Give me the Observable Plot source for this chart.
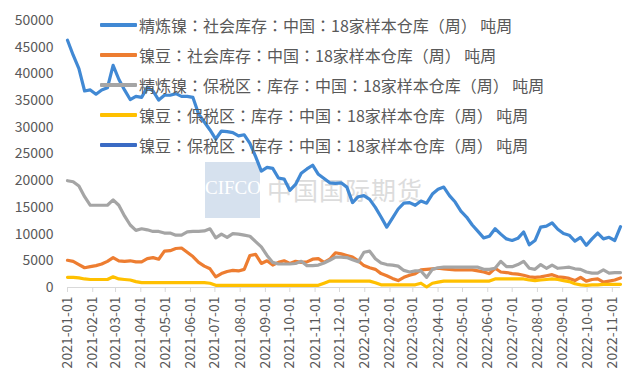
<!DOCTYPE html>
<html><head><meta charset="utf-8">
<script src="https://cdn.jsdelivr.net/npm/d3@7"></script>
<script src="https://cdn.jsdelivr.net/npm/@observablehq/plot@0.6"></script>
<style>
body{margin:0;background:#fff;}
#wrap{position:relative;width:640px;height:384px;overflow:hidden;font-family:"Noto Sans CJK SC",sans-serif;background:#fff;}
#wm-box{position:absolute;left:205px;top:162px;width:55px;height:56px;background:#d6e1ee;}
#wm-en{position:absolute;left:201px;top:178px;width:64px;text-align:center;font-family:"Liberation Serif",serif;font-size:19px;line-height:1;color:#fff;}
#wm-cn{position:absolute;left:267px;top:177px;font-size:25px;color:#dcdcdc;line-height:1;white-space:nowrap;letter-spacing:1px;}
#chart{position:absolute;left:0;top:0;}
#legend{position:absolute;left:100px;top:0;}
.item{position:absolute;left:0;height:30px;display:flex;align-items:center;white-space:nowrap;font-size:16px;color:#595959;font-family:"Noto Sans CJK TC","Noto Sans CJK SC",sans-serif;}
.swatch{width:37px;height:3.5px;margin-right:2px;border-radius:1px;}
</style>
</head><body>
<div id="wrap">
  <div id="wm-box"></div>
  <div id="wm-en">CIFCO</div>
  <div id="wm-cn">中国国际期货</div>
  <div id="chart"></div>
  <div id="legend"></div>
</div>
<script>
const dates = [
"2021-01-01","2021-01-08","2021-01-15","2021-01-22","2021-01-29","2021-02-05","2021-02-12","2021-02-19","2021-02-26","2021-03-05",
"2021-03-12","2021-03-19","2021-03-26","2021-04-02","2021-04-09","2021-04-16","2021-04-23","2021-04-30","2021-05-07","2021-05-14",
"2021-05-21","2021-05-28","2021-06-04","2021-06-11","2021-06-18","2021-06-25","2021-07-02","2021-07-09","2021-07-16","2021-07-23",
"2021-07-30","2021-08-06","2021-08-13","2021-08-20","2021-08-27","2021-09-03","2021-09-10","2021-09-17","2021-09-24","2021-10-01",
"2021-10-08","2021-10-15","2021-10-22","2021-10-29","2021-11-05","2021-11-12","2021-11-19","2021-11-26","2021-12-03","2021-12-10",
"2021-12-17","2021-12-24","2021-12-31","2022-01-07","2022-01-14","2022-01-21","2022-01-28","2022-02-04","2022-02-11","2022-02-18",
"2022-02-25","2022-03-04","2022-03-11","2022-03-18","2022-03-25","2022-04-01","2022-04-08","2022-04-15","2022-04-22","2022-04-29",
"2022-05-06","2022-05-13","2022-05-20","2022-05-27","2022-06-03","2022-06-10","2022-06-17","2022-06-24","2022-07-01","2022-07-08",
"2022-07-15","2022-07-22","2022-07-29","2022-08-05","2022-08-12","2022-08-19","2022-08-26","2022-09-02","2022-09-09","2022-09-16",
"2022-09-23","2022-09-30","2022-10-07","2022-10-14","2022-10-21","2022-10-28","2022-11-04","2022-11-11"];

// 精炼镍：社会库存
const refinedSocial = [
46300,43500,41000,36800,37000,36200,37000,37400,41600,39000,
37000,35200,35800,35600,37500,36800,35100,36000,36000,36300,
35800,35800,35600,32500,31000,29500,27800,29300,29200,29000,
28400,28600,27000,24500,21800,22500,22300,20500,20300,18200,
19300,21400,22200,22900,21200,20400,19600,19500,19600,18800,
15900,17000,17200,16500,15000,13200,11300,13000,14700,15800,
15900,15400,16200,15800,17500,18400,18800,17200,16000,14300,
13200,11700,10500,9300,9600,11000,10000,9100,8800,9200,
10400,8000,8800,11300,11500,12100,10900,10100,9800,8700,
9400,7900,9100,10200,9100,9400,8800,11400];

// 镍豆：社会库存
const beansSocial = [
5100,4900,4300,3700,3900,4100,4400,4900,5600,5000,
4900,5000,4800,4800,5400,5600,5300,6800,6900,7300,
7400,6600,5800,4700,4000,3500,2000,2600,3000,3200,
3100,3400,6000,6200,4500,5000,4200,4700,5000,4500,
4900,4700,4800,5300,5400,4700,5300,6500,6300,6000,
5700,5000,4100,3700,3400,2600,2200,1700,1300,1900,
2300,2600,3300,3400,3500,3600,3500,3400,3300,3300,
3300,3300,3100,2900,2600,3600,2900,2800,2600,2500,
2300,2000,1900,2000,2200,2400,2000,1900,1700,1300,
1900,1200,1500,1600,1000,1200,1400,1800];

// 精炼镍：保税区：库存
const refinedBonded = [
20000,19800,19000,17000,15400,15400,15400,15400,16400,15400,
13400,11700,10700,11000,10800,10500,10500,10200,10200,9800,
9800,10400,10500,10500,10600,11000,9300,10000,9400,10100,
10000,9800,9600,8600,7600,6000,4700,4400,4400,4400,
4500,4900,4100,4100,4200,4600,5100,5700,5700,5600,
5200,4800,6600,6800,5400,4600,4300,4200,4000,3200,
2900,3100,3100,1900,3400,3700,3800,3800,3800,3800,
3800,3800,3800,3400,3400,3600,4900,3900,3900,4300,
4900,3600,3400,4300,3600,4200,3600,3700,3800,3500,
3400,2900,2700,2700,3300,2700,2800,2800];

// 镍豆：保税区：库存
const beansBonded = [
1900,1900,1800,1600,1500,1500,1500,1500,2000,1600,
1500,1400,1100,900,900,900,900,900,900,900,
900,900,900,900,900,800,400,400,400,400,
400,400,400,400,400,400,400,400,400,400,
400,400,400,400,400,800,1200,1200,1200,1200,
1200,1200,1200,1200,900,500,500,500,500,500,
500,500,800,100,800,1000,1200,1200,1200,1200,
1200,1200,1200,1200,1200,1600,1600,1600,1600,1600,
1600,1400,1300,1400,1500,1600,1500,1300,1100,700,
500,400,500,500,600,600,600,600];

// 镍豆：保税区：库存 (second entry, no visible data)
const beansBonded2 = [];

const seriesNames = [
"精炼镍：社会库存：中国：18家样本仓库（周） 吨周",
"镍豆：社会库存：中国：18家样本仓库（周） 吨周",
"精炼镍：保税区：库存：中国：18家样本仓库（周） 吨周",
"镍豆：保税区：库存：中国：18家样本仓库（周） 吨周",
"镍豆：保税区：库存：中国：18家样本仓库（周） 吨周"];
const seriesColors = ["#4189d4","#ed7d31","#a5a5a5","#ffc000","#3a6bc4"];
const seriesValues = [refinedSocial, beansSocial, refinedBonded, beansBonded, beansBonded2];

const yTicks = [0,5000,10000,15000,20000,25000,30000,35000,40000,45000,50000];
const xTickLabels = [
"2021-01-01","2021-02-01","2021-03-01","2021-04-01","2021-05-01","2021-06-01","2021-07-01","2021-08-01",
"2021-09-01","2021-10-01","2021-11-01","2021-12-01","2022-01-01","2022-02-01","2022-03-01","2022-04-01",
"2022-05-01","2022-06-01","2022-07-01","2022-08-01","2022-09-01","2022-10-01","2022-11-01"];

const parse = d3.utcParse("%Y-%m-%d");
const xTicks = xTickLabels.map(parse);

const lineMarks = seriesValues.map((vals, i) => {
  const rows = vals.map((v, j) => ({date: parse(dates[j]), value: v}));
  return Plot.line(rows, {x: "date", y: "value", stroke: seriesColors[i], strokeWidth: 3.2, strokeLinejoin: "round", strokeLinecap: "round"});
});

const chart = Plot.plot({
  width: 640, height: 384,
  marginLeft: 67, marginRight: 20, marginTop: 20, marginBottom: 97,
  x: {type: "utc", domain: [parse(dates[0]), parse(dates[dates.length - 1])]},
  y: {domain: [0, 50000]},
  style: {fontFamily: '"Noto Sans CJK SC", sans-serif', fontSize: "14px", color: "#595959", background: "transparent", overflow: "visible"},
  marks: [
    Plot.axisY({ticks: yTicks, tickSize: 0, tickPadding: 14, tickFormat: d => String(d), fill: "#595959", label: null}),
    Plot.axisX({ticks: xTicks, tickFormat: d3.utcFormat("%Y-%m-%d"), tickRotate: -90, tickSize: 5, tickPadding: 4, stroke: "#d9d9d9", fill: "#595959", label: null}),
    Plot.ruleY([0], {stroke: "#d9d9d9", strokeWidth: 1}),
    ...lineMarks
  ]
});
document.getElementById("chart").appendChild(chart);

const legend = document.getElementById("legend");
seriesNames.forEach((name, i) => {
  const item = document.createElement("div");
  item.className = "item";
  item.style.top = (10 + 30 * i) + "px";
  const sw = document.createElement("div");
  sw.className = "swatch";
  sw.style.background = seriesColors[i];
  const t = document.createElement("span");
  t.textContent = name;
  item.appendChild(sw);
  item.appendChild(t);
  legend.appendChild(item);
});
</script>
</body></html>
